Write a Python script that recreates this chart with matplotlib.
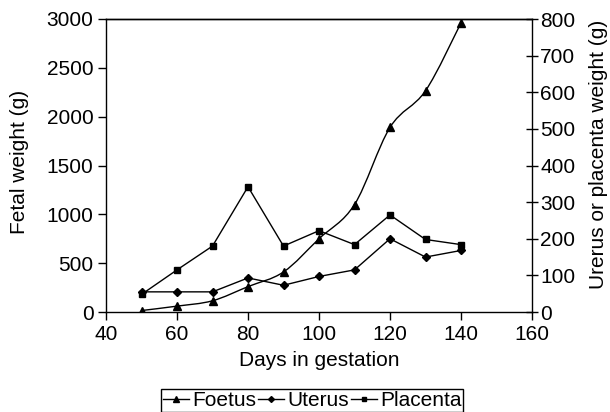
import matplotlib
matplotlib.use("Agg")
import matplotlib.pyplot as plt
from matplotlib.path import Path
from matplotlib.patches import PathPatch
from matplotlib.lines import Line2D

plt.rcParams["font.family"] = ["Liberation Sans", "DejaVu Sans"]

days = [50, 60, 70, 80, 90, 100, 110, 120, 130, 140]
foetus = [15, 60, 115, 260, 410, 750, 1100, 1890, 2265, 2960]
uterus = [55, 55, 55, 93, 73, 97, 115, 200, 150, 168]
placenta = [48, 115, 180, 342, 180, 222, 184, 265, 198, 184]

x_ticks = [40, 60, 80, 100, 120, 140, 160]
left_ticks = [0, 500, 1000, 1500, 2000, 2500, 3000]
right_ticks = [0, 100, 200, 300, 400, 500, 600, 700, 800]

FS = 15


def smooth_path(xs, ys):
    # bezier through the points (Catmull-Rom style, like a spreadsheet smoothed line)
    pts = list(zip(xs, ys))
    n = len(pts)
    verts = [pts[0]]
    codes = [Path.MOVETO]
    for i in range(n - 1):
        p0 = pts[i - 1] if i > 0 else pts[i]
        p1 = pts[i]
        p2 = pts[i + 1]
        p3 = pts[i + 2] if i + 2 < n else pts[i + 1]
        c1 = (p1[0] + (p2[0] - p0[0]) / 6, p1[1] + (p2[1] - p0[1]) / 6)
        c2 = (p2[0] - (p3[0] - p1[0]) / 6, p2[1] - (p3[1] - p1[1]) / 6)
        verts += [c1, c2, p2]
        codes += [Path.CURVE4] * 3
    return Path(verts, codes)


fig = plt.figure(figsize=(6.1, 4.12), dpi=100)
ax = fig.add_axes([106 / 610, 1 - 312 / 412, 426 / 610, 293 / 412])
ax2 = ax.twinx()

ax.add_patch(PathPatch(smooth_path(days, foetus), facecolor="none", edgecolor="black", lw=1.0))
ax.plot(days, foetus, linestyle="none", marker="^", ms=6, color="black")

ax2.plot(days, uterus, color="black", lw=1.0, marker="D", ms=4)
ax2.plot(days, placenta, color="black", lw=1.0, marker="s", ms=5)

ax.set_xlim(40, 160)
ax.set_ylim(0, 3000)
ax2.set_ylim(0, 800)
ax.set_xticks(x_ticks)
ax.set_yticks(left_ticks)
ax2.set_yticks(right_ticks)

for a in (ax, ax2):
    for s in a.spines.values():
        s.set_linewidth(1.0)
        s.set_color("black")
ax.spines["right"].set_visible(False)
ax2.spines["left"].set_visible(False)
ax2.spines["bottom"].set_visible(False)

ax.tick_params(axis="both", direction="out", length=6, width=1, labelsize=FS, pad=3)
ax2.tick_params(axis="y", direction="inout", length=8, width=1, labelsize=FS, pad=2)

ax.set_xlabel("Days in gestation", fontsize=FS, va="center")
ax.set_ylabel("Fetal weight (g)", fontsize=FS, va="center")
ax2.set_ylabel("Urerus or placenta weight (g)", fontsize=FS, va="center")
ax.xaxis.set_label_coords(0.5, (312 - 361) / 293)
ax.yaxis.set_label_coords((20 - 106) / 426, (312 - 162) / 293)
ax2.yaxis.set_label_coords((598 - 106) / 426, (312 - 154) / 293)

handles = [
    Line2D([], [], color="black", lw=1.0, marker="^", ms=4),
    Line2D([], [], color="black", lw=1.0, marker="D", ms=3),
    Line2D([], [], color="black", lw=1.0, marker="s", ms=3),
]
leg = fig.legend(handles, ["Foetus", "Uterus", "Placenta"], loc="upper center",
                 bbox_to_anchor=(312 / 610, 1 - 389 / 412), ncol=3, fontsize=FS,
                 frameon=True, fancybox=False, framealpha=1, edgecolor="black",
                 handlelength=1.25, handletextpad=0.15, columnspacing=0.1,
                 borderpad=0.1, borderaxespad=0)
leg.get_frame().set_linewidth(1.0)

fig.savefig("out.png", dpi=100)
